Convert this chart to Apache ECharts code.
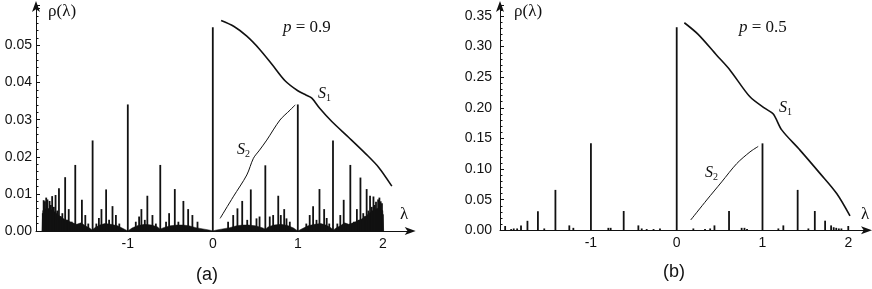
<!DOCTYPE html>
<html>
<head>
<meta charset="utf-8">
<script src="https://cdn.jsdelivr.net/npm/echarts@6/dist/echarts.min.js"></script>
<style>
html,body{margin:0;padding:0;background:#fff;}
#c{width:872px;height:289px;}
</style>
</head>
<body>
<div id="c"></div>
<script>
// ---------- Panel (a): p = 0.9 ----------
const xLabelsA = [-1, 0, 1, 2];
const spikeLamA = [-2.00,-1.99,-1.975,-1.96,-1.945,-1.92,-1.905,-1.89,-1.87,-1.85,-1.83,-1.81,-1.79,-1.77,-1.737,-1.715,-1.695,-1.66,-1.618,-1.58,-1.54,-1.50,-1.465,-1.414,-1.37,-1.34,-1.31,-1.255,-1.22,-1.18,-1.14,-1.10,-1.00,-0.906,-0.867,-0.84,-0.80,-0.77,-0.74,-0.71,-0.67,-0.618,-0.55,-0.514,-0.447,-0.405,-0.346,-0.29,-0.24,-0.18,
  0.00,
  0.18,0.24,0.29,0.346,0.405,0.447,0.514,0.55,0.618,0.67,0.71,0.74,0.77,0.80,0.84,0.867,0.906,1.00,1.10,1.14,1.18,1.22,1.255,1.31,1.34,1.37,1.414,1.465,1.50,1.54,1.58,1.618,1.66,1.695,1.715,1.737,1.77,1.79,1.81,1.83,1.85,1.87,1.89,1.905,1.92,1.945,1.96,1.975,1.99,2.00];
const spikeRhoA = [0.0048,0.0083,0.0080,0.0090,0.0085,0.0081,0.0070,0.0094,0.0065,0.0097,0.0055,0.0115,0.0040,0.0048,0.0145,0.0030,0.0059,0.0025,0.0178,0.0014,0.0084,0.0043,0.0020,0.0244,0.0020,0.0035,0.0059,0.0112,0.0030,0.0067,0.0043,0.0020,0.0341,0.0025,0.0039,0.0059,0.0030,0.0095,0.0016,0.0043,0.0020,0.0178,0.0025,0.0048,0.0113,0.0025,0.0081,0.0059,0.0043,0.0025,
  0.0549,
  0.0025,0.0043,0.0061,0.0081,0.0030,0.0112,0.0034,0.0039,0.0177,0.0039,0.0043,0.0016,0.0095,0.0043,0.0059,0.0034,0.0025,0.0341,0.0020,0.0043,0.0067,0.0030,0.0113,0.0059,0.0035,0.0020,0.0244,0.0020,0.0043,0.0084,0.0014,0.0178,0.0025,0.0059,0.0030,0.0144,0.0048,0.0040,0.0113,0.0055,0.0095,0.0065,0.0093,0.0070,0.0079,0.0085,0.0090,0.0080,0.0075,0.0045];
const contLamA = [-2.01,-2.00,-1.95,-1.90,-1.85,-1.80,-1.75,-1.70,-1.65,-1.60,-1.55,-1.50,-1.45,-1.42,-1.38,-1.33,-1.27,-1.20,-1.12,-1.05,-1.00,-0.95,-0.88,-0.80,-0.72,-0.65,-0.62,-0.58,-0.50,-0.42,-0.35,-0.28,-0.20,-0.10,-0.03,0.00,
  0.03,0.10,0.20,0.28,0.35,0.42,0.50,0.58,0.62,0.65,0.72,0.80,0.88,0.95,1.00,1.05,1.12,1.20,1.27,1.33,1.38,1.42,1.45,1.50,1.55,1.60,1.65,1.70,1.75,1.80,1.85,1.90,1.95,2.00,2.01];
const contRhoA = [0,0.0055,0.0062,0.0058,0.0050,0.0040,0.0032,0.0027,0.0022,0.0018,0.0022,0.0014,0.0008,0.0003,0.0010,0.0016,0.0020,0.0018,0.0014,0.0006,0,0.0008,0.0015,0.0018,0.0016,0.0011,0.0005,0.0009,0.0014,0.0016,0.0016,0.0014,0.0009,0.0005,0.0002,0,
  0.0002,0.0005,0.0009,0.0014,0.0016,0.0016,0.0014,0.0009,0.0005,0.0011,0.0016,0.0018,0.0015,0.0008,0,0.0006,0.0014,0.0018,0.0020,0.0016,0.0010,0.0003,0.0008,0.0014,0.0022,0.0018,0.0022,0.0027,0.0032,0.0040,0.0050,0.0058,0.0062,0.0055,0];
const s1LamA = [0.098,0.25,0.40,0.55,0.70,0.85,1.00,1.10,1.165,1.26,1.40,1.60,1.80,1.95,2.106];
const s1RhoA = [0.0567,0.0551,0.0525,0.0490,0.0448,0.0405,0.0378,0.0366,0.0358,0.0330,0.0295,0.0252,0.0208,0.0172,0.0121];
const s2LamA = [0.086,0.24,0.40,0.478,0.55,0.635,0.79,0.91,0.97];
const s2RhoA = [0.0034,0.0092,0.0151,0.0196,0.0218,0.0245,0.0299,0.0326,0.0340];

// ---------- Panel (b): p = 0.5 ----------
const xLabelsB = [-1, 0, 1, 2];
const spikeLamB = [-2.00,-1.93,-1.90,-1.86,-1.815,-1.74,-1.618,-1.544,-1.414,-1.252,-1.205,-1.00,-0.797,-0.77,-0.618,-0.447,-0.408,-0.35,-0.27,-0.195,
  0.00,
  0.194,0.33,0.39,0.44,0.61,0.757,0.79,0.82,1.00,1.185,1.243,1.41,1.535,1.61,1.73,1.80,1.83,1.86,1.89,1.92,2.00];
const spikeRhoB = [0.007,0.002,0.003,0.003,0.008,0.0155,0.031,0.003,0.066,0.008,0.004,0.142,0.004,0.004,0.0315,0.008,0.003,0.002,0.002,0.003,
  0.3317,
  0.003,0.002,0.003,0.008,0.0315,0.004,0.004,0.002,0.142,0.003,0.008,0.066,0.003,0.0315,0.0157,0.008,0.005,0.004,0.003,0.003,0.007];
const s1LamB = [0.089,0.25,0.466,0.62,0.854,1.03,1.126,1.224,1.437,1.67,1.865,2.02];
const s1RhoB = [0.339,0.320,0.286,0.262,0.218,0.199,0.190,0.164,0.131,0.093,0.060,0.0234];
const s2LamB = [0.163,0.35,0.524,0.70,0.854,0.95];
const s2RhoB = [0.0168,0.0495,0.079,0.109,0.128,0.137];

const zip = (a, b) => a.map((v, i) => [v, b[i]]);
const INK = '#111';
const sans = 'Liberation Sans, Arial, sans-serif';
const serif = 'Liberation Serif, Times New Roman, serif';

function xAxisCfg(gi, min, max, labels) {
  return {
    type: 'value', gridIndex: gi, min: min, max: max,
    splitLine: {show: false},
    axisTick: {show: false},
    axisLine: {onZero: false, lineStyle: {color: INK, width: 1}, symbol: ['none', 'arrow'], symbolSize: [6, 11], symbolOffset: [0, 4]},
    axisLabel: {customValues: labels, color: INK, fontFamily: sans, fontSize: 14, margin: 6,
      formatter: v => (v < 0 ? '-' + Math.abs(v) : String(v))}
  };
}
function yAxisCfg(gi, max, interval, hideAbove, margin) {
  return {
    type: 'value', gridIndex: gi, min: 0, max: max, interval: interval,
    splitLine: {show: false},
    axisLine: {onZero: false, lineStyle: {color: INK, width: 1}, symbol: ['none', 'arrow'], symbolSize: [6, 11], symbolOffset: [0, 4]},
    axisTick: {inside: true, length: 4, lineStyle: {color: INK}},
    minorTick: {show: true, splitNumber: 5, length: 2.5, lineStyle: {color: INK}},
    axisLabel: {color: INK, fontFamily: sans, fontSize: 14, margin: margin, showMaxLabel: false,
      formatter: v => (v > hideAbove ? '' : v.toFixed(2))}
  };
}
function curve(xi, lam, rho, w) {
  return {type: 'line', xAxisIndex: xi, yAxisIndex: xi, data: zip(lam, rho), symbol: 'none', smooth: 0.3,
    lineStyle: {width: w, color: INK}, z: 3};
}

const chart = echarts.init(document.getElementById('c'), null, {renderer: 'canvas'});
const option = {
  animation: false,
  backgroundColor: '#fff',
  grid: [
    {left: 36, top: 5, width: 375.7, height: 226},
    {left: 500, top: 5, width: 368, height: 225.3}
  ],
  xAxis: [xAxisCfg(0, -2.08, 2.34, xLabelsA), xAxisCfg(1, -2.06, 2.23, xLabelsB)],
  yAxis: [yAxisCfg(0, 0.0609, 0.01, 0.055, 4), yAxisCfg(1, 0.368, 0.05, 0.355, 8)],
  series: [
    {type: 'line', xAxisIndex: 0, yAxisIndex: 0, data: zip(contLamA, contRhoA), symbol: 'none',
      lineStyle: {width: 0.5, color: INK}, areaStyle: {color: INK, opacity: 1}, z: 1},
    {type: 'bar', xAxisIndex: 0, yAxisIndex: 0, data: zip(spikeLamA, spikeRhoA), barWidth: 1.8,
      itemStyle: {color: INK}, z: 2},
    curve(0, s1LamA, s1RhoA, 1.6),
    curve(0, s2LamA, s2RhoA, 1),
    {type: 'bar', xAxisIndex: 1, yAxisIndex: 1, data: zip(spikeLamB, spikeRhoB), barWidth: 1.8,
      itemStyle: {color: INK}, z: 2},
    curve(1, s1LamB, s1RhoB, 1.6),
    curve(1, s2LamB, s2RhoB, 1)
  ],
  graphic: [
    {type: 'text', left: 48, top: 3, style: {text: 'ρ(λ)', font: '17px ' + serif, fill: INK}},
    {type: 'text', left: 514, top: 3, style: {text: 'ρ(λ)', font: '17px ' + serif, fill: INK}},
    {type: 'text', left: 283, top: 19, style: {text: '{i|p}{n| = 0.9}', rich: {i: {fontFamily: serif, fontStyle: 'italic', fontSize: 17, fill: INK}, n: {fontFamily: serif, fontSize: 17, fill: INK}}}},
    {type: 'text', left: 739, top: 19, style: {text: '{i|p}{n| = 0.5}', rich: {i: {fontFamily: serif, fontStyle: 'italic', fontSize: 17, fill: INK}, n: {fontFamily: serif, fontSize: 17, fill: INK}}}},
    {type: 'text', left: 318, top: 86, style: {text: '{i|S}{s|1}', rich: {i: {fontFamily: serif, fontStyle: 'italic', fontSize: 16, fill: INK}, s: {fontFamily: serif, fontSize: 10, fill: INK, verticalAlign: 'bottom', padding: [8, 0, 0, 0]}}}},
    {type: 'text', left: 237, top: 142, style: {text: '{i|S}{s|2}', rich: {i: {fontFamily: serif, fontStyle: 'italic', fontSize: 16, fill: INK}, s: {fontFamily: serif, fontSize: 10, fill: INK, verticalAlign: 'bottom', padding: [8, 0, 0, 0]}}}},
    {type: 'text', left: 779, top: 100, style: {text: '{i|S}{s|1}', rich: {i: {fontFamily: serif, fontStyle: 'italic', fontSize: 16, fill: INK}, s: {fontFamily: serif, fontSize: 10, fill: INK, verticalAlign: 'bottom', padding: [8, 0, 0, 0]}}}},
    {type: 'text', left: 705, top: 165, style: {text: '{i|S}{s|2}', rich: {i: {fontFamily: serif, fontStyle: 'italic', fontSize: 16, fill: INK}, s: {fontFamily: serif, fontSize: 10, fill: INK, verticalAlign: 'bottom', padding: [8, 0, 0, 0]}}}},
    {type: 'text', left: 400, top: 206, style: {text: 'λ', font: '17px ' + serif, fill: INK}},
    {type: 'text', left: 861, top: 206, style: {text: 'λ', font: '17px ' + serif, fill: INK}},
    {type: 'text', left: 196, top: 266, style: {text: '(a)', font: '18px ' + sans, fill: INK}},
    {type: 'text', left: 663, top: 263, style: {text: '(b)', font: '18px ' + sans, fill: INK}}
  ]
};
chart.setOption(option);
</script>
</body>
</html>
